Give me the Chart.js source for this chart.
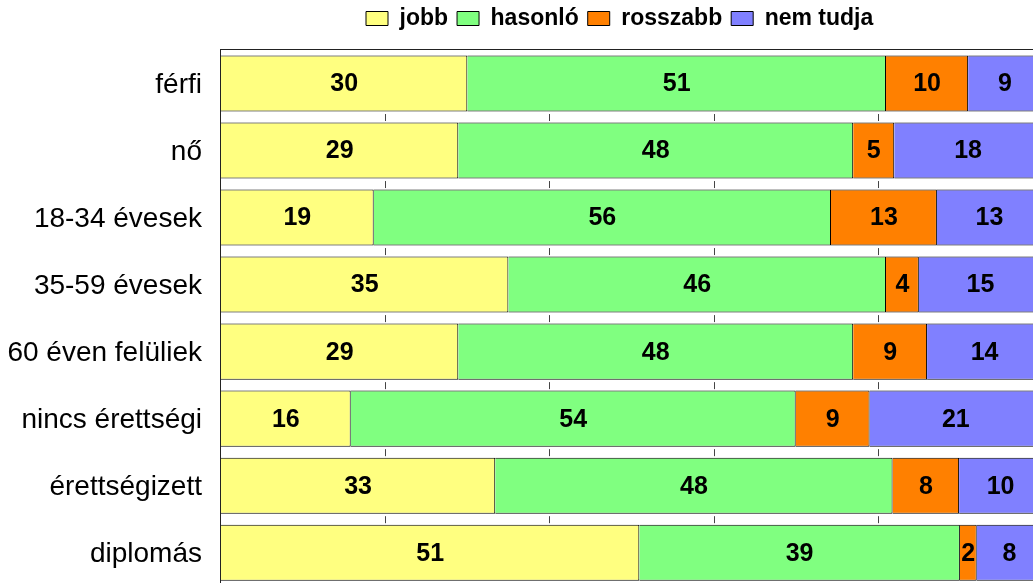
<!DOCTYPE html>
<html><head><meta charset="utf-8">
<script src="https://cdn.jsdelivr.net/npm/chart.js@4/dist/chart.umd.min.js"></script>
<style>
html,body{margin:0;padding:0;background:#fff;overflow:hidden;}
#wrap{position:relative;width:1033px;height:583px;overflow:hidden;background:#fff;}
canvas{position:absolute;left:0;top:0;}
</style></head><body>
<div id="wrap"><canvas id="c" width="1060" height="622"></canvas></div>
<script>
const categories = ['férfi','nő','18-34 évesek','35-59 évesek','60 éven felüliek','nincs érettségi','érettségizett','diplomás'];
const seriesNames = ['jobb','hasonló','rosszabb','nem tudja'];
const jobb      = [30.0, 28.9, 18.6, 35.0, 28.9, 15.8, 33.4, 50.95];
const hasonlo   = [51.0, 48.1, 55.7, 46.0, 48.1, 54.2, 48.4, 39.05];
const rosszabb  = [10.0,  5.0, 12.9,  4.0,  9.0,  9.0,  8.1,  2.05];
const nemTudja  = [ 9.0, 18.0, 12.8, 15.0, 14.0, 21.0, 10.1,  7.95];
const xTickValues = [20, 40, 60, 80];
const seriesColors = ['#FFFF80', '#80FF80', '#FF8000', '#8080FF'];

const FONT = "'Liberation Sans', Arial, Helvetica, sans-serif";
const allSeries = [jobb, hasonlo, rosszabb, nemTudja];

const framePlugin = {
  id: 'frameTicks',
  beforeDatasetsDraw(chart) {
    const ctx = chart.ctx, ca = chart.chartArea;
    const xs = chart.scales.x, ys = chart.scales.y;
    ctx.save();
    ctx.strokeStyle = '#222';
    ctx.lineWidth = 1;
    ctx.strokeRect(ca.left - 0.5, ca.top - 0.5, ca.right - ca.left + 1, ca.bottom - ca.top + 1);
    ctx.strokeStyle = '#444';
    const band = (ys.bottom - ys.top) / categories.length;
    xTickValues.forEach(v => {
      const px = Math.round(xs.getPixelForValue(v)) + 0.5;
      for (let k = 1; k <= categories.length; k++) {
        const by = ys.top + k * band;
        ctx.beginPath(); ctx.moveTo(px, by - 3); ctx.lineTo(px, by + 4); ctx.stroke();
      }
    });
    ctx.restore();
  },
  afterDatasetsDraw(chart) {
    const ctx = chart.ctx;
    ctx.save();
    ctx.font = 'bold 25px ' + FONT;
    ctx.fillStyle = '#000';
    ctx.textAlign = 'center';
    ctx.textBaseline = 'middle';
    chart.data.datasets.forEach((ds, i) => {
      const meta = chart.getDatasetMeta(i);
      meta.data.forEach((bar, j) => {
        const p = bar.getProps(['x', 'base', 'y'], true);
        ctx.fillText(String(Math.round(ds.data[j])), (p.x + p.base) / 2, p.y + 1);
      });
    });
    ctx.restore();
  },
  afterLayout(chart) {
    const lg = chart.legend;
    if (!lg) return;
    const pad = lg.options.labels.padding;
    const dx = 366 - (lg.left + pad);
    lg.left += dx; lg.right += dx;
    lg.top -= 10; lg.bottom -= 10;
  }
};

new Chart(document.getElementById('c'), {
  type: 'bar',
  data: {
    labels: categories,
    datasets: seriesNames.map((name, i) => ({
      label: name,
      data: allSeries[i],
      backgroundColor: seriesColors[i],
      borderColor: '#000',
      borderWidth: 1,
      barPercentage: 0.836,
      categoryPercentage: 1.0
    }))
  },
  options: {
    indexAxis: 'y',
    responsive: false,
    animation: false,
    layout: { padding: { top: 8, right: 18, bottom: 0, left: 0 } },
    scales: {
      x: {
        display: false,
        stacked: true, min: 0, max: 100
      },
      y: {
        stacked: true,
        ticks: { font: { family: FONT, size: 28 }, color: '#000', padding: 19, labelOffset: 2 },
        grid: { display: false, drawTicks: false },
        border: { display: false },
        afterFit(s) { s.width = 221; }
      }
    },
    plugins: {
      legend: {
        position: 'top', align: 'start',
        labels: { boxWidth: 22, boxHeight: 14, padding: 9, color: '#000',
                  font: { family: FONT, size: 23, weight: 'bold' } }
      },
      tooltip: { enabled: false }
    }
  },
  plugins: [framePlugin]
});
</script>
</body></html>
